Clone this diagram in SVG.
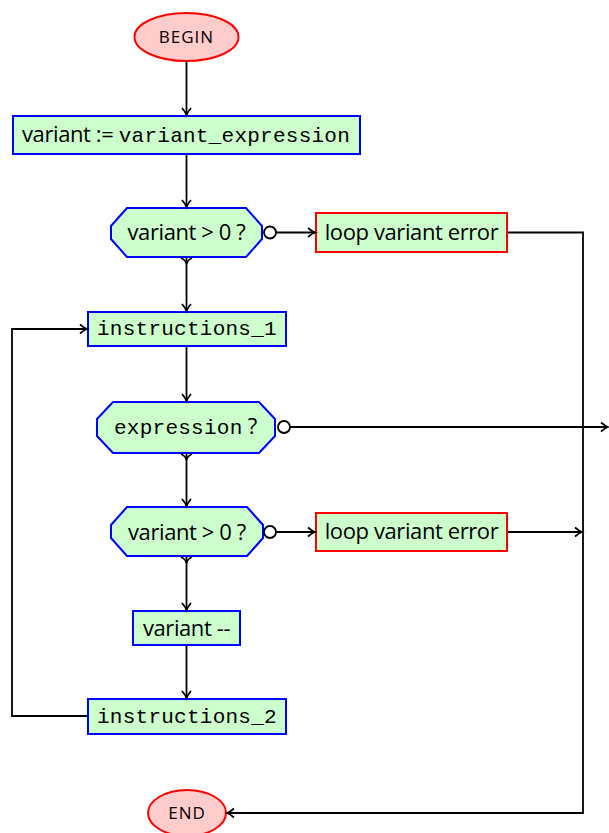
<svg xmlns="http://www.w3.org/2000/svg" width="609" height="833" viewBox="0 0 609 833">
<style>
.box{fill:#ccffcc;stroke:#0000ff;stroke-width:2}
.err{fill:#ccffcc;stroke:#ff0000;stroke-width:2}
.term{fill:#ffcccc;stroke:#ff0000;stroke-width:2}
.ln{fill:none;stroke:#000;stroke-width:1.8}
.tail{fill:#fff;stroke:#000;stroke-width:1.8}
.sans{font-family:"Open Sans","Noto Sans",sans-serif;font-size:22px;letter-spacing:-0.4px;fill:#000}
.mono{font-family:"Liberation Mono","DejaVu Sans Mono",monospace;font-size:21px;letter-spacing:0.25px;fill:#000}
.cap{font-family:"Open Sans","Noto Sans",sans-serif;font-size:17px;letter-spacing:1px;fill:#000}
</style>
<defs>
<marker id="ar" markerUnits="userSpaceOnUse" markerWidth="14" markerHeight="14" refX="10" refY="7" orient="auto">
<path d="M3,2.5 Q7,6 10,7 Q7,8 3,11.5" fill="none" stroke="#000" stroke-width="1.8"/>
</marker>
<marker id="yt" markerUnits="userSpaceOnUse" markerWidth="14" markerHeight="14" refX="1" refY="7" orient="auto">
<path d="M1,1.5 Q3,6 7,7 Q3,8 1,12.5" fill="none" stroke="#000" stroke-width="1.6"/>
</marker>
</defs>
<g id="begin">
<ellipse class="term" cx="186.5" cy="37" rx="52" ry="24"/>
<text class="cap" x="186.5" y="43" text-anchor="middle">BEGIN</text>
</g>
<g id="init">
<rect class="box" x="13" y="116" width="347" height="38"/>
<text x="22" y="141.5"><tspan class="sans">variant := </tspan><tspan class="mono">variant_expression</tspan></text>
</g>
<g id="check1">
<polygon class="box" points="127,208 246,208 262,226 262,239 246,257 127,257 111,239 111,226"/>
<text class="sans" x="186.5" y="240" text-anchor="middle">variant &gt; 0 ?</text>
</g>
<g id="error1">
<rect class="err" x="316" y="213" width="191" height="39"/>
<text class="sans" x="411.5" y="239.5" text-anchor="middle">loop variant error</text>
</g>
<g id="instr1">
<rect class="box" x="88" y="312" width="198" height="34"/>
<text class="mono" x="97" y="335">instructions_1</text>
</g>
<g id="expr">
<polygon class="box" points="113,402 259,402 275,419 275,436 259,453 113,453 97,436 97,419"/>
<text x="114" y="434"><tspan class="mono">expression</tspan><tspan class="sans"> ?</tspan></text>
</g>
<g id="check2">
<polygon class="box" points="127,507 247,507 263,525 263,538 247,556 127,556 111,538 111,525"/>
<text class="sans" x="187" y="539.5" text-anchor="middle">variant &gt; 0 ?</text>
</g>
<g id="error2">
<rect class="err" x="316" y="513" width="191" height="38"/>
<text class="sans" x="411.5" y="539" text-anchor="middle">loop variant error</text>
</g>
<g id="decr">
<rect class="box" x="133" y="611" width="107" height="34"/>
<text class="sans" x="186.5" y="636" text-anchor="middle">variant --</text>
</g>
<g id="instr2">
<rect class="box" x="88" y="699" width="198" height="35"/>
<text class="mono" x="97" y="722.5">instructions_2</text>
</g>
<g id="end">
<ellipse class="term" cx="187" cy="813" rx="39" ry="23"/>
<text class="cap" x="187" y="819" text-anchor="middle">END</text>
</g>
<g id="connectors">
<line class="ln" x1="186.5" y1="61" x2="186.5" y2="115" marker-end="url(#ar)"/>
<line class="ln" x1="186.5" y1="154" x2="186.5" y2="207" marker-end="url(#ar)"/>
<line class="ln" x1="186.5" y1="258" x2="186.5" y2="311" marker-start="url(#yt)" marker-end="url(#ar)"/>
<line class="ln" x1="276" y1="232.5" x2="315" y2="232.5" marker-end="url(#ar)"/>
<polyline class="ln" points="508,232.5 583,232.5 583,813 227,813" marker-end="url(#ar)"/>
<line class="ln" x1="186.5" y1="347" x2="186.5" y2="401" marker-end="url(#ar)"/>
<line class="ln" x1="290" y1="427" x2="608" y2="427" marker-end="url(#ar)"/>
<line class="ln" x1="186.5" y1="454" x2="186.5" y2="506" marker-start="url(#yt)" marker-end="url(#ar)"/>
<line class="ln" x1="276" y1="532" x2="315" y2="532" marker-end="url(#ar)"/>
<line class="ln" x1="508" y1="532" x2="582" y2="532" marker-end="url(#ar)"/>
<line class="ln" x1="186.5" y1="557" x2="186.5" y2="610" marker-start="url(#yt)" marker-end="url(#ar)"/>
<line class="ln" x1="186.5" y1="646" x2="186.5" y2="698" marker-end="url(#ar)"/>
<polyline class="ln" points="87,716 12,716 12,329 87,329" marker-end="url(#ar)"/>
<circle class="tail" cx="270" cy="232.5" r="6"/>
<circle class="tail" cx="284" cy="427" r="6"/>
<circle class="tail" cx="270" cy="532" r="6"/>
</g>
</svg>
